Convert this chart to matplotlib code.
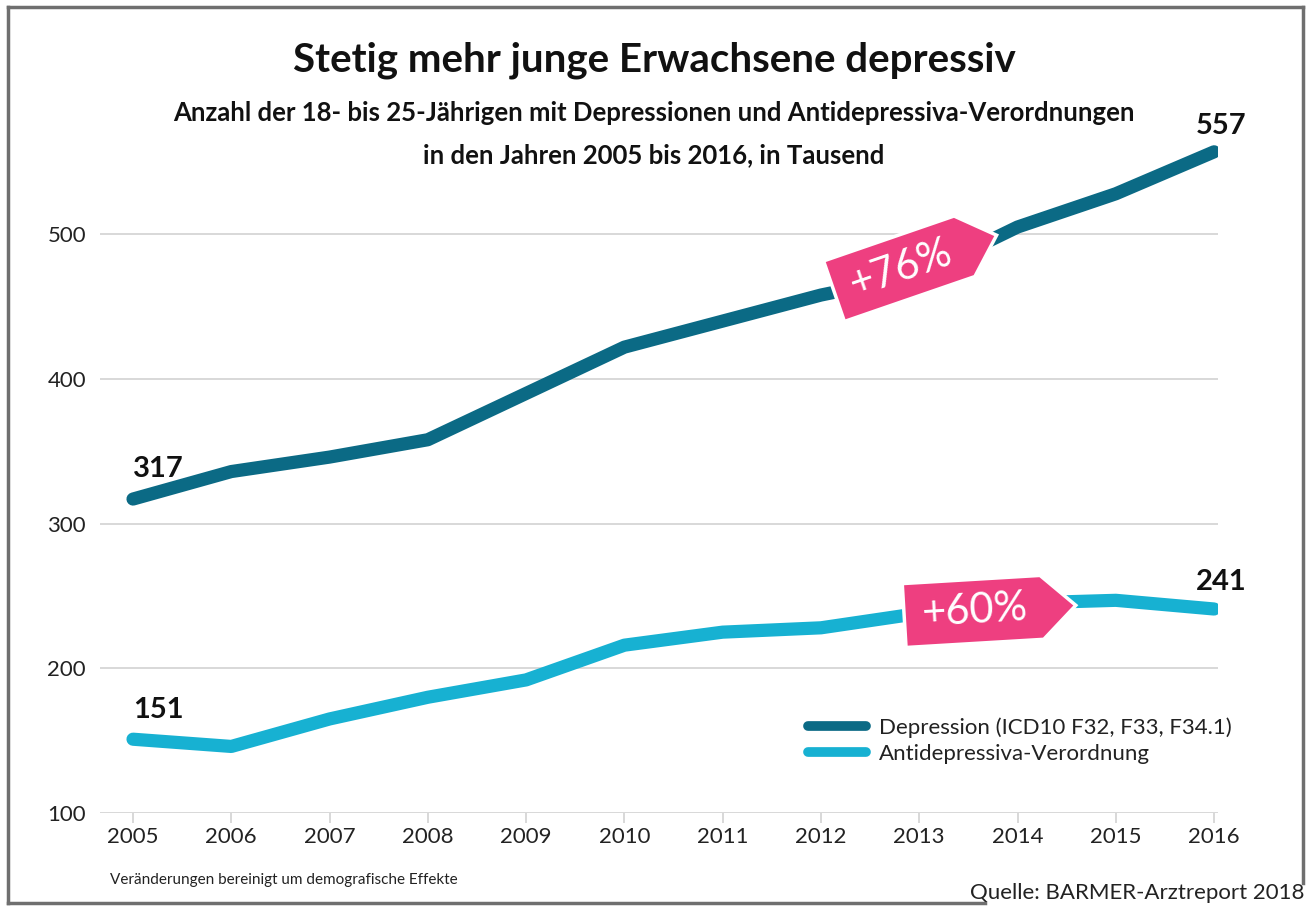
import numpy as np
import matplotlib
matplotlib.use("Agg")
import matplotlib.pyplot as plt
from matplotlib.patches import Polygon
from matplotlib.lines import Line2D
from matplotlib.transforms import Affine2D, IdentityTransform

plt.rcParams['font.family'] = ['Lato', 'DejaVu Sans']

# Daten (in Tausend)
jahre = [2005, 2006, 2007, 2008, 2009, 2010, 2011, 2012, 2013, 2014, 2015, 2016]
depression = [317, 336, 346, 358, 390, 422, 440, 458, 472, 505, 528, 557]
antidepressiva = [151, 146, 165, 180, 192, 216, 225, 228, 238, 245, 247, 241]
y_ticks = [100, 200, 300, 400, 500]
legende = ['Depression (ICD10 F32, F33, F34.1)', 'Antidepressiva-Verordnung']

dunkel = '#0b6a85'
hell = '#17b1d2'
pink = '#ee3f80'
grau = '#d6d6d6'

W, H = 1308, 907
fig = plt.figure(figsize=(W / 100, H / 100), dpi=100)

# Achse in Pixel platzieren
links, rechts, unten, oben = 100, 1218, 813, 133
ax = fig.add_axes([links / W, (H - unten) / H, (rechts - links) / W, (unten - oben) / H])
ax.set_xlim(2004.664, 2016.04)
ax.set_ylim(100, 570)

ax.plot(jahre, depression, color=dunkel, lw=9.5, solid_capstyle='round', solid_joinstyle='round', zorder=3)
ax.plot(jahre, antidepressiva, color=hell, lw=9.5, solid_capstyle='round', solid_joinstyle='round', zorder=3)

for s in ax.spines.values():
    s.set_visible(False)
ax.set_yticks(y_ticks)
ax.set_xticks(jahre)
ax.grid(axis='y', color=grau, lw=1.3)
ax.tick_params(axis='y', length=0, labelsize=16, pad=10, labelcolor='#222222')
ax.tick_params(axis='x', length=7, width=1.3, color=grau, labelsize=16, pad=3, labelcolor='#222222')

# Endwerte beschriften
wert_stil = dict(textcoords='offset points', va='bottom', fontsize=21, fontweight='bold', color='#111111')
ax.annotate(str(depression[0]), (jahre[0], depression[0]), xytext=(0, 12), ha='left', **wert_stil)
ax.annotate(str(depression[-1]), (jahre[-1], depression[-1]), xytext=(5, 9), ha='center', **wert_stil)
ax.annotate(str(antidepressiva[0]), (jahre[0], antidepressiva[0]), xytext=(0, 12), ha='left', **wert_stil)
ax.annotate(str(antidepressiva[-1]), (jahre[-1], antidepressiva[-1]), xytext=(5, 10), ha='center', **wert_stil)

fig.canvas.draw()


def etikett(x, y, winkel, text):
    # pinkes Preisschild mit Spitze nach rechts
    cx, cy = ax.transData.transform((x, y))
    w, h, d = 172, 64, 34
    pts = np.array([[-w / 2, -h / 2], [w / 2 - d, -h / 2], [w / 2, 0],
                    [w / 2 - d, h / 2], [-w / 2, h / 2]])
    tr = Affine2D().rotate_deg(winkel).translate(cx, cy)
    poly = Polygon(tr.transform(pts), closed=True, facecolor=pink, edgecolor='white',
                   lw=2.5, transform=IdentityTransform(), zorder=5)
    fig.patches.append(poly)
    tx, ty = tr.transform([[-d / 2 + 2, 0]])[0]
    fig.text(tx / W, ty / H, text, color='white', fontsize=30, rotation=winkel,
             rotation_mode='anchor', ha='center', va='center', zorder=6)


plus_dep = round((depression[-1] / depression[0] - 1) * 100)
plus_anti = round((antidepressiva[-1] / antidepressiva[0] - 1) * 100)
etikett(2012.96, 480, 19, '+%d%%' % plus_dep)
etikett(2013.72, 240, 3.4, '+%d%%' % plus_anti)

# Legende
handles = [Line2D([], [], color=dunkel, lw=7, solid_capstyle='round'),
           Line2D([], [], color=hell, lw=7, solid_capstyle='round')]
fig.legend(handles, legende, loc='upper left', bbox_to_anchor=(788 / W, 1 - 697 / H),
           frameon=False, fontsize=16, handlelength=2.6, handletextpad=0.6,
           labelspacing=0.3, labelcolor='#222222')

# Titel
fig.text(0.5, 1 - 60 / H, 'Stetig mehr junge Erwachsene depressiv', ha='center', va='center',
         fontsize=29, fontweight='bold', color='#111111')
fig.text(0.5, 1 - 113 / H, 'Anzahl der 18- bis 25-Jährigen mit Depressionen und Antidepressiva-Verordnungen',
         ha='center', va='center', fontsize=18.5, fontweight='bold', color='#111111')
fig.text(0.5, 1 - 155 / H, 'in den Jahren 2005 bis 2016, in Tausend',
         ha='center', va='center', fontsize=18.5, fontweight='bold', color='#111111')

fig.text(110 / W, 1 - 880 / H, 'Veränderungen bereinigt um demografische Effekte',
         ha='left', va='center', fontsize=11, color='#222222')
fig.text(1304 / W, 1 - 893 / H, 'Quelle: BARMER-Arztreport 2018',
         ha='right', va='center', fontsize=16, color='#222222')

# Rahmen
rahmen = '#6f6f6f'
fig.add_artist(Line2D([8 / W, 8 / W], [1 - 903 / H, 1 - 7 / H], color=rahmen, lw=2.5))
fig.add_artist(Line2D([8 / W, 1303 / W], [1 - 7 / H, 1 - 7 / H], color=rahmen, lw=2.5))
fig.add_artist(Line2D([1303 / W, 1303 / W], [1 - 7 / H, 1 - 883 / H], color=rahmen, lw=2.5))
fig.add_artist(Line2D([8 / W, 985 / W], [1 - 903 / H, 1 - 903 / H], color=rahmen, lw=2.5))

fig.savefig('out.png', dpi=100)
